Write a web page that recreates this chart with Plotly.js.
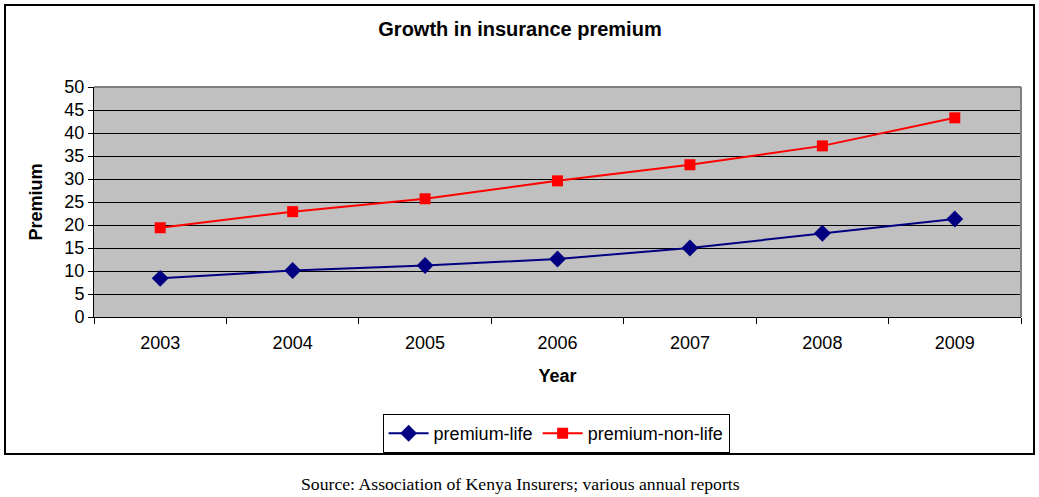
<!DOCTYPE html>
<html>
<head>
<meta charset="utf-8">
<script src="https://cdn.plot.ly/plotly-3.0.1.min.js"></script>
<style>
  html, body { margin: 0; padding: 0; background: #ffffff; }
  #wrap { position: relative; width: 1039px; height: 497px; }
  #chart { width: 1039px; height: 497px; }
  #frame { position: absolute; left: 4px; top: 4px; width: 1027px; height: 447px;
           border: 2px solid #000000; pointer-events: none; }
</style>
</head>
<body>
<div id="wrap">
  <div id="chart"></div>
  <div id="frame"></div>
</div>
<script>
const years = ['2003', '2004', '2005', '2006', '2007', '2008', '2009'];
const premiumLife = [8.4, 10.1, 11.2, 12.6, 15.0, 18.2, 21.3];
const premiumNonLife = [19.4, 22.9, 25.7, 29.6, 33.1, 37.2, 43.3];
const yTicks = [0, 5, 10, 15, 20, 25, 30, 35, 40, 45, 50];

const font = 'Liberation Sans, Arial, sans-serif';

const traces = [
  {
    x: years, y: premiumLife, name: 'premium-life', type: 'scatter', mode: 'lines+markers',
    line: { color: '#000080', width: 2 },
    marker: { symbol: 'diamond', size: 13, color: '#000080' }
  },
  {
    x: years, y: premiumNonLife, name: 'premium-non-life', type: 'scatter', mode: 'lines+markers',
    line: { color: '#FF0000', width: 2 },
    marker: { symbol: 'square', size: 11, color: '#FF0000' }
  }
];

const layout = {
  width: 1039, height: 497,
  margin: { l: 94, r: 18, t: 87, b: 180 },
  paper_bgcolor: '#ffffff',
  plot_bgcolor: '#C0C0C0',
  font: { family: font, size: 18, color: '#000000' },
  title: {
    text: '<b>Growth in insurance premium</b>',
    font: { family: font, size: 20, color: '#000000' },
    x: 520 / 1039, xref: 'container', xanchor: 'center',
    y: 1 - 29 / 497, yref: 'container', yanchor: 'middle'
  },
  xaxis: {
    type: 'category',
    categoryorder: 'array', categoryarray: years,
    range: [-0.5, 6.5],
    showgrid: false, zeroline: false,
    showline: true, linecolor: '#000000', linewidth: 1,
    ticks: 'outside', tickson: 'boundaries', ticklen: 6, tickcolor: '#000000',
    ticklabelstandoff: 9,
    tickfont: { family: font, size: 18, color: '#000000' },
    title: { text: '<b>Year</b>', font: { family: font, size: 18, color: '#000000' }, standoff: 17 },
    automargin: false, fixedrange: true
  },
  yaxis: {
    range: [0, 50], tickvals: yTicks, ticktext: yTicks.map(String),
    showgrid: true, gridcolor: '#000000', gridwidth: 1, zeroline: false,
    showline: true, linecolor: '#000000', linewidth: 1,
    ticks: 'outside', ticklen: 5, tickcolor: '#000000',
    tickfont: { family: font, size: 18, color: '#000000' },
    title: { text: '<b>Premium</b>', font: { family: font, size: 18, color: '#000000' }, standoff: 17 },
    automargin: false, fixedrange: true
  },
  showlegend: true,
  legend: {
    orientation: 'h',
    x: 0.4985, xanchor: 'center', xref: 'paper',
    y: (317 - 414) / 230, yanchor: 'top', yref: 'paper',
    bgcolor: '#ffffff', bordercolor: '#000000', borderwidth: 1,
    font: { family: font, size: 18, color: '#000000' },
    itemwidth: 40, tracegroupgap: 0
  },
  shapes: [
    { type: 'line', xref: 'paper', yref: 'paper', x0: 0, x1: 1, y0: 1, y1: 1,
      line: { color: '#808080', width: 2 }, layer: 'above' },
    { type: 'line', xref: 'paper', yref: 'paper', x0: 1, x1: 1, y0: 0, y1: 1,
      line: { color: '#808080', width: 2 }, layer: 'above' }
  ],
  annotations: [
    {
      text: 'Source: Association of Kenya Insurers; various annual reports',
      xref: 'paper', yref: 'paper', x: (520 - 94) / 927, xanchor: 'center',
      y: (317 - 484) / 230, yanchor: 'middle', showarrow: false,
      font: { family: 'Liberation Serif, Times New Roman, serif', size: 17.7, color: '#000000' }
    }
  ]
};

Plotly.newPlot('chart', traces, layout, { displayModeBar: false, staticPlot: true });
</script>
</body>
</html>
